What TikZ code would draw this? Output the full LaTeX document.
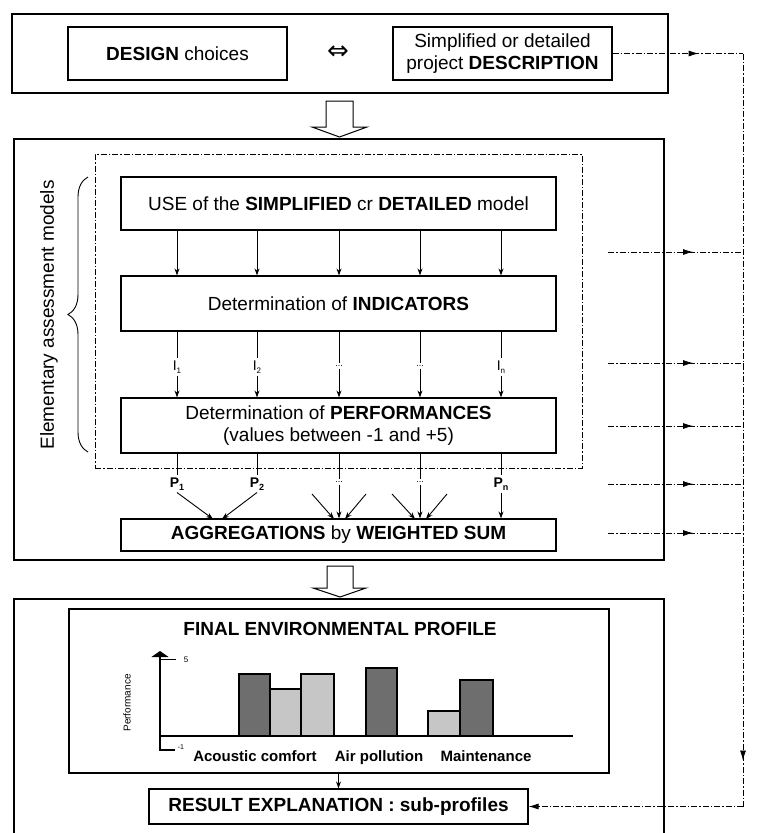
\documentclass[tikz,border=0pt]{standalone}
\usepackage{fontspec}
\setmainfont{Liberation Sans}
\newfontfamily\symfont{DejaVu Sans}
\usetikzlibrary{arrows.meta,decorations.pathreplacing,decorations.markings}

\begin{document}
\begin{tikzpicture}[x=1pt,y=-1pt,
  txt/.style={font=\fontsize{19}{21.5}\selectfont, align=center},
  box/.style={draw, line width=1.2pt, inner sep=0pt, txt},
  frame/.style={draw, line width=1.3pt, inner sep=0pt},
  lab/.style={inner sep=2pt},
  ilab/.style={lab, font=\fontsize{14}{14}\selectfont},
  plab/.style={lab, font=\fontsize{14}{14}\selectfont\bfseries},
  dots/.style={lab, font=\fontsize{9}{9}\selectfont},
  flow/.style={line width=0.9pt, -{Stealth[length=7pt,width=5pt]}},
  link/.style={line width=0.9pt},
  dd/.style={line width=0.8pt, dash pattern=on 6pt off 2pt on 1.5pt off 2pt},
  hollow/.style={draw, line width=1pt, fill=white, line join=miter},
  midarrow/.style={postaction={decorate, decoration={markings,
      mark=at position #1 with {\arrow{Latex[length=10pt,width=6pt]}}}}},
  catlab/.style={anchor=base, font=\fontsize{15}{15}\selectfont\bfseries},
]
\definecolor{bardark}{HTML}{6E6E6E}
\definecolor{barlight}{HTML}{C6C6C6}
\useasboundingbox (0,0) rectangle (758,833);

% ---------- top part: design choices and project description
\node[frame, minimum width=656pt, minimum height=79pt] (topframe) at (340,53.5) {};
\node[box, minimum width=219pt, minimum height=53pt] (design) at (177.5,53.5) {\textbf{DESIGN} choices};
\node[box, minimum width=219pt, minimum height=53pt] (desc) at (502.5,53.5)
  {Simplified or detailed\\project \textbf{DESCRIPTION}};
\node[font=\fontsize{26}{26}\symfont, inner sep=0pt] (equiv) at (338,53) {⇔};

% hollow arrow down to the assessment part
\draw[hollow] (326,101) -- (353,101) -- (353,127) -- (367,127) -- (339.5,137)
  -- (312,127) -- (326,127) -- cycle;

% ---------- assessment part
\node[frame, minimum width=650pt, minimum height=421pt] (mainframe) at (339,349.5) {};
\node[draw, line width=0.9pt, dash pattern=on 6pt off 2pt on 1.5pt off 2pt,
  minimum width=487pt, minimum height=314pt, inner sep=0pt] (models) at (338.5,311) {};

\node[box, minimum width=435pt, minimum height=53pt] (use) at (338.5,203.5)
  {USE of the \textbf{SIMPLIFIED} cr \textbf{DETAILED} model};
\node[box, minimum width=435pt, minimum height=55pt] (ind) at (338.5,303.5)
  {Determination of \textbf{INDICATORS}};
\node[box, minimum width=435pt, minimum height=55pt] (perf) at (338.5,425.5)
  {Determination of \textbf{PERFORMANCES}\\(values between -1 and +5)};
\node[box, minimum width=435pt, minimum height=32pt] (agg) at (338.5,535)
  {\textbf{AGGREGATIONS} by \textbf{WEIGHTED SUM}};

% brace and its caption
\draw[line width=0.9pt, decorate, decoration={brace, amplitude=20pt}] (88,452) -- (88,177);
\node[txt, rotate=90] (elem) at (49,315) {Elementary assessment models};

% columns between the model and the indicators
\foreach \c in {177,257,339,420,501}
  \draw[flow] (use.south -| \c,0) -- (ind.north -| \c,0);

% indicator labels
\node[ilab] (i1) at (177,367) {I\raisebox{-3pt}{\fontsize{8}{8}\selectfont 1}};
\node[ilab] (i2) at (257,367) {I\raisebox{-3pt}{\fontsize{8}{8}\selectfont 2}};
\node[dots] (i3) at (339,366) {...};
\node[dots] (i4) at (420,366) {...};
\node[ilab] (in) at (501,367) {I\raisebox{-3pt}{\fontsize{8}{8}\selectfont n}};
\foreach \n in {i1,i2,i3,i4,in} {
  \draw[link] (ind.south -| \n) -- (\n.north);
  \draw[flow] (\n.south) -- (perf.north -| \n);
}

% performance labels
\node[plab] (p1) at (177,484) {P\raisebox{-3pt}{\fontsize{9}{9}\selectfont 1}};
\node[plab] (p2) at (257,484) {P\raisebox{-3pt}{\fontsize{9}{9}\selectfont 2}};
\node[dots] (p3) at (339,482) {...};
\node[dots] (p4) at (420,482) {...};
\node[plab] (pn) at (501,484) {P\raisebox{-3pt}{\fontsize{9}{9}\selectfont n}};
\foreach \n in {p1,p2,p3,p4,pn}
  \draw[link] (perf.south -| \n) -- (\n.north);

% aggregation arrows
\draw[flow] (p1.south) -- (213,519);
\draw[flow] (p2.south) -- (222,519);
\coordinate (c3l) at (312,494);
\coordinate (c3r) at (366,494);
\coordinate (c4l) at (392,494);
\coordinate (c4r) at (447,494);
\draw[flow] (c3l) -- (334,519);
\draw[flow] (p3.south) -- (agg.north -| p3);
\draw[flow] (c3r) -- (345,519);
\draw[flow] (c4l) -- (415,519);
\draw[flow] (p4.south) -- (agg.north -| p4);
\draw[flow] (c4r) -- (426,519);
\draw[flow] (pn.south) -- (agg.north -| pn);

% hollow arrow down to the result part
\draw[hollow] (327,566) -- (353,566) -- (353,588) -- (366,588) -- (340,597)
  -- (313,588) -- (327,588) -- cycle;

% ---------- result part
\draw[line width=1.3pt] (14,834) -- (14,599) -- (664,599) -- (664,834);
\node[draw, line width=1.2pt, minimum width=540pt, minimum height=164pt, inner sep=0pt]
  (profile) at (339,691) {};
\node[txt] (title) at (340,629) {\textbf{FINAL ENVIRONMENTAL PROFILE}};

% bar chart
\draw[line width=1.2pt, -{Triangle[width=17pt,length=6pt]}] (175,750) -- (160,750) -- (160,651);
\draw[line width=1pt] (160,659) -- (176,659);
\draw[line width=1.1pt] (160,736) -- (573,736);
\begin{scope}[line width=1.2pt]
  \filldraw[fill=bardark]  (239,736) rectangle (270,674);
  \filldraw[fill=barlight] (270,736) rectangle (301,689);
  \filldraw[fill=barlight] (301,736) rectangle (334,674);
  \filldraw[fill=bardark]  (366,736) rectangle (397,668);
  \filldraw[fill=barlight] (428,736) rectangle (460,711);
  \filldraw[fill=bardark]  (460,736) rectangle (493,680);
\end{scope}
\node[font=\fontsize{8}{8}\selectfont, inner sep=0pt] (five) at (186,660) {5};
\node[font=\fontsize{7}{7}\selectfont, inner sep=0pt] (minusone) at (181,747) {-1};
\node[font=\fontsize{10}{10}\selectfont, rotate=90, inner sep=0pt] (perfaxis) at (127,703) {Performance};
\node[catlab] (acoustic) at (255,761.5) {Acoustic comfort};
\node[catlab] (air) at (379,761.5) {Air pollution};
\node[catlab] (maint) at (486,761.5) {Maintenance};

\node[box, minimum width=379pt, minimum height=35pt] (result) at (338.5,806.5)
  {\textbf{RESULT EXPLANATION : sub-profiles}};
\draw[flow] (profile.south -| result) -- (result.north);

% ---------- dashed feedback lines to the result explanation
\coordinate (vtop) at (743,53.5);
\coordinate (vbot) at (743,806.5);
\coordinate (o1) at (608,252);
\coordinate (o2) at (608,363);
\coordinate (o3) at (608,426);
\coordinate (o4) at (608,484);
\coordinate (o5) at (608,533);
\draw[dd, midarrow=86pt] (desc.east) -- (vtop);
\foreach \o in {o1,o2,o3,o4,o5}
  \draw[dd, midarrow=85pt] (\o) -- (\o -| vtop);
\draw[dd, midarrow=707pt] (vtop) -- (vbot);
\draw[dd, -{Latex[length=10pt,width=6pt]}] (vbot) -- (result.east);
\end{tikzpicture}
\end{document}
